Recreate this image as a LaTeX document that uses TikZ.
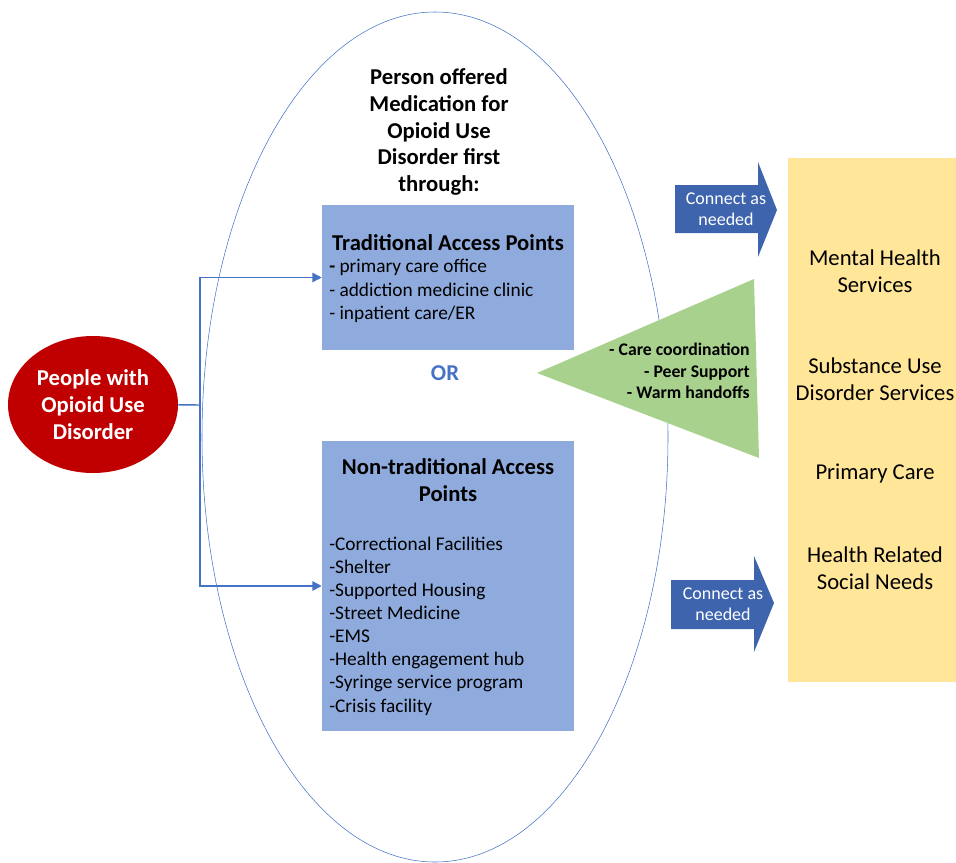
\documentclass[tikz,border=0pt]{standalone}
\usepackage{fontspec}
\setmainfont{Carlito}
\usetikzlibrary{shapes.geometric,arrows.meta}
\definecolor{linkblue}{HTML}{4472C4}
\definecolor{boxblue}{HTML}{8FAADC}
\definecolor{arrowblue}{HTML}{3F64AE}
\definecolor{poudred}{HTML}{C00000}
\definecolor{hubgreen}{HTML}{A9D18E}
\definecolor{svcyellow}{HTML}{FFE699}

\begin{document}
\begin{tikzpicture}[x=0.75pt,y=-0.75pt,
  access_box/.style={rectangle,fill=boxblue,minimum width=189pt,inner sep=0pt},
  text_node/.style={inner sep=0pt,align=center},
  item_node/.style={inner sep=0pt,align=left,anchor=west},
  title_node/.style={text_node,font=\fontsize{17}{20}\selectfont\bfseries},
  connect_node/.style={text_node,text=white,font=\fontsize{13.5}{15.75}\selectfont},
  service_node/.style={text_node,font=\fontsize{17}{20.25}\selectfont}]

    \useasboundingbox (0,0) rectangle (956,863);

    % outer oval and its heading
    \node[draw=linkblue,line width=0.4pt,ellipse,minimum width=349.5pt,minimum height=637.5pt] (oval) at (435,437) {};
    \node[title_node,font=\fontsize{17}{20.1}\selectfont\bfseries] (heading) at (439,132)
        {Person offered\\Medication for\\Opioid Use\\Disorder first\\through:};

    \node[ellipse,fill=poudred,minimum width=127.5pt,minimum height=102.75pt,inner sep=0pt,
          text=white,align=center,font=\fontsize{17}{20.25}\selectfont\bfseries] (poud) at (93,404.5)
        {People with\\Opioid Use\\Disorder};

    % access points
    \node[access_box,minimum height=108.75pt] (trad) at (448,277.5) {};
    \node[title_node] (tradtitle) at (448,243) {Traditional Access Points};
    \node[item_node,font=\fontsize{14.5}{17.4}\selectfont] (tradlist) at (329,291)
        {\textbf{-} primary care office\\- addiction medicine clinic\\- inpatient care/ER};

    \node[text_node,text=linkblue,font=\fontsize{17}{20}\selectfont\bfseries] (or) at (445,373) {OR};

    \node[access_box,minimum height=217.5pt] (nontrad) at (448,586) {};
    \node[title_node] (nontradtitle) at (448,480)
        {Non-traditional Access\\Points};
    \node[item_node,font=\fontsize{14.5}{17.35}\selectfont] (nontradlist) at (329,626)
        {-Correctional Facilities\\-Shelter\\-Supported Housing\\-Street Medicine\\-EMS\\-Health engagement hub\\-Syringe service program\\-Crisis facility};

    \coordinate (split) at (200,405);
    \begin{scope}[every path/.style={draw=linkblue,line width=1.1pt}]
    \draw (poud) -- (split);
    \draw[-{Triangle[length=7pt,width=7pt]}] (split) |- (trad);
    \draw[-{Triangle[length=7pt,width=7pt]}] (split) |- (nontrad);
    \end{scope}

    % care coordination wedge
    \fill[hubgreen] (537,373) -- (754,279) -- (759,458) -- cycle;
    \node[inner sep=0pt,align=right,anchor=east,font=\fontsize{13.3}{16}\selectfont\bfseries] (hub) at (750,371)
        {- Care coordination\\- Peer Support\\- Warm handoffs};

    % connect arrows
    \fill[arrowblue] (675,185) -- (758,185) -- (758,162) -- (777,210) -- (758,257) -- (758,233) -- (675,233) -- cycle;
    \node[connect_node] (connecttop) at (726,209.5) {Connect as\\needed};
    \fill[arrowblue] (671,580) -- (754,580) -- (754,556) -- (774,603) -- (754,652) -- (754,629) -- (671,629) -- cycle;
    \node[connect_node] (connectbot) at (723,604) {Connect as\\needed};

    % services column
    \node[rectangle,fill=svcyellow,minimum width=126pt,minimum height=393pt,inner sep=0pt] (services) at (872,420) {};
    \node[service_node] (mental) at (875,271.5) {Mental Health\\Services};
    \node[service_node] (sud) at (875,379.5) {Substance Use\\Disorder Services};
    \node[service_node] (primary) at (875,474) {Primary Care};
    \node[service_node] (social) at (875,568.5) {Health Related\\Social Needs};
\end{tikzpicture}
\end{document}
